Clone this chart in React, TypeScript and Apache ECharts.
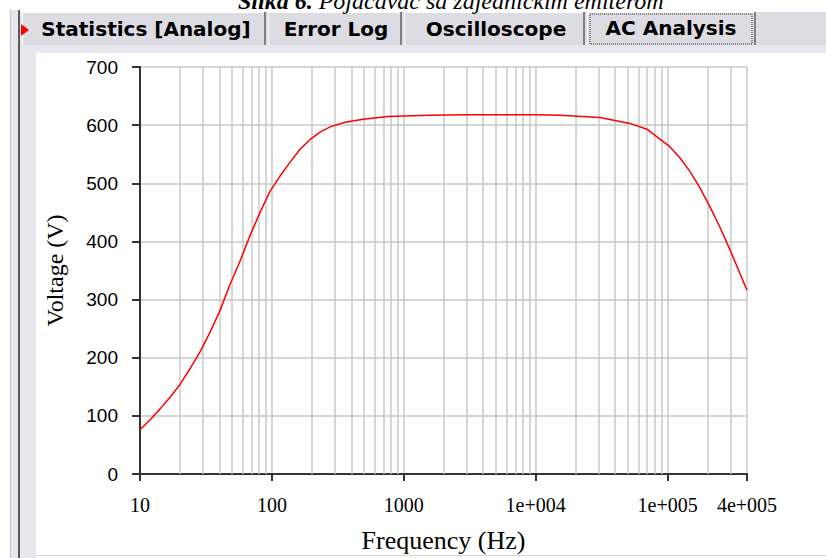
import React, { useEffect, useRef } from "react";
import * as echarts from "echarts";

// Frequency (Hz) and output voltage (V)
const freqHz = [
  10, 11.9, 14.2, 16.9, 20.1, 23.9, 28.5, 34, 40.4, 48.1, 57.3, 68.2, 81.3, 96.7,
  115, 137, 163, 194, 232, 276, 358, 491, 759, 1580, 3000, 6000, 10000,
  15300, 22400, 30700, 39900, 51900, 69800, 87500, 104000, 124000, 148000,
  176000, 210000, 250000, 298000, 355000, 400000,
];
const voltageV = [
  76, 93, 112, 132, 154, 181, 210, 244, 281, 326, 366, 410, 450, 486,
  512, 536, 558, 575, 588, 597, 605, 610, 615, 617, 618, 618, 618,
  617, 615, 613, 608, 603, 593, 576, 563, 544, 520,
  492, 459, 424, 385, 344, 316,
];
const tabLabels = ["Statistics [Analog]", "Error Log", "Oscilloscope", "AC Analysis"];
const titleBold = "Slika 6.";
const titleRest = "Pojačavač sa zajedničkim emiterom";
const xMin = 10;
const xMax = 400000;
const yMin = 0;
const yMax = 700;
const yStep = 100;

function formatFreq(v: number): string {
  const r = Number(v.toPrecision(6));
  if (r < 10000) return String(r);
  const e = Math.floor(Math.log10(r) + 1e-9);
  const m = Math.round(r / Math.pow(10, e));
  return `${m}e+${String(e).padStart(3, "0")}`;
}

export default function App() {
  const ref = useRef<HTMLDivElement>(null);
  useEffect(() => {
    if (!ref.current) return;
    const chart = echarts.init(ref.current, null, { renderer: "svg" });

    // minor log gridlines (2..9 x each decade) inside the axis range
    const minorGrid: number[] = [];
    for (let d = xMin; d < xMax; d *= 10) {
      for (let m = 2; m <= 9; m++) {
        const v = m * d;
        if (v < xMax) minorGrid.push(v);
      }
    }

    const data = freqHz.map((f, i) => [f, voltageV[i]]);
    const gridColor = "#c8c8c8";
    const axisColor = "#333333";
    const panel = "#e6e6ec";
    const tabFill = "#dcdce2";

    const tabs = [
      { x: 22, w: 244, cx: 146, cy: 29 },
      { x: 268, w: 134, cx: 336, cy: 29 },
      { x: 404, w: 181, cx: 496, cy: 29 },
      { x: 587, w: 169, cx: 671, cy: 28 },
    ];

    const graphic: any[] = [
      { type: "rect", shape: { x: 10, y: 10, width: 1, height: 548 }, style: { fill: "#c4c4cc" } },
      { type: "rect", shape: { x: 11, y: 10, width: 7, height: 548 }, style: { fill: panel } },
      { type: "rect", shape: { x: 18, y: 10, width: 2, height: 548 }, style: { fill: "#5a5a5a" } },
      { type: "rect", shape: { x: 20, y: 12, width: 806, height: 33 }, style: { fill: tabFill } },
      { type: "rect", shape: { x: 20, y: 45, width: 806, height: 8 }, style: { fill: panel } },
      { type: "rect", shape: { x: 20, y: 45, width: 16, height: 513 }, style: { fill: panel } },
      { type: "rect", shape: { x: 36, y: 555, width: 790, height: 1 }, style: { fill: "#d4d4da" } },
      { type: "rect", shape: { x: 20, y: 12, width: 2, height: 33 }, style: { fill: panel } },
    ];
    tabs.forEach((t, i) => {
      graphic.push({ type: "rect", shape: { x: t.x, y: 12, width: t.w, height: 33 }, style: { fill: tabFill } });
      graphic.push({ type: "rect", shape: { x: t.x, y: 12, width: t.w, height: 1 }, style: { fill: "#ffffff" } });
      graphic.push({ type: "rect", shape: { x: t.x, y: 12, width: 1, height: 33 }, style: { fill: "#ffffff" } });
      graphic.push({ type: "rect", shape: { x: t.x + t.w - 2, y: 12, width: 2, height: 33 }, style: { fill: "#808080" } });
      graphic.push({
        type: "text",
        x: t.cx,
        y: t.cy,
        style: {
          text: tabLabels[i],
          fill: "#000",
          font: "bold 20px 'DejaVu Sans'",
          align: "center",
          verticalAlign: "middle",
        },
      });
    });
    graphic.push({
      type: "rect",
      shape: { x: 590, y: 14, width: 162, height: 30 },
      style: { fill: "none", stroke: "#333", lineWidth: 1, lineDash: [1, 1] },
    });
    graphic.push({
      type: "polygon",
      shape: { points: [[21, 24], [29, 30], [21, 36]] },
      style: { fill: "#ff0000" },
    });
    graphic.push({
      type: "text",
      x: 238,
      y: 13,
      style: {
        text: `{b|${titleBold}} ${titleRest}`,
        fill: "#000",
        font: "italic 24px 'Liberation Serif'",
        verticalAlign: "bottom",
        rich: { b: { fontWeight: "bold", fontStyle: "italic", fontFamily: "Liberation Serif", fontSize: 24 } },
      },
    });

    chart.setOption({
      animation: false,
      backgroundColor: "#ffffff",
      graphic,
      grid: { left: 140, right: 79, top: 67, bottom: 78, containLabel: false },
      xAxis: {
        type: "log",
        logBase: 10,
        min: xMin,
        max: xMax,
        axisLine: { show: true, lineStyle: { color: axisColor, width: 2 } },
        axisTick: { show: true, length: 7, lineStyle: { color: axisColor, width: 2 } },
        axisLabel: {
          formatter: formatFreq,
          fontFamily: "Liberation Serif",
          fontSize: 20,
          color: "#000",
          margin: 21,
          showMinLabel: true,
          showMaxLabel: true,
        },
        splitLine: { show: true, lineStyle: { color: gridColor, width: 1.5 } },
        minorTick: { show: false },
        minorSplitLine: { show: false },
        name: "Frequency (Hz)",
        nameLocation: "middle",
        nameGap: 53,
        nameTextStyle: { fontFamily: "Liberation Serif", fontSize: 26, color: "#000" },
      },
      yAxis: {
        type: "value",
        min: yMin,
        max: yMax,
        interval: yStep,
        axisLine: { show: true, lineStyle: { color: axisColor, width: 2 } },
        axisTick: { show: true, length: 8, lineStyle: { color: axisColor, width: 2 } },
        axisLabel: { fontFamily: "Liberation Sans", fontSize: 19, color: "#000", margin: 22 },
        splitLine: { show: true, lineStyle: { color: gridColor, width: 1.5 } },
        name: "Voltage (V)",
        nameLocation: "middle",
        nameGap: 73,
        nameRotate: 90,
        nameTextStyle: { fontFamily: "Liberation Serif", fontSize: 24, color: "#000" },
      },
      series: [
        {
          type: "line",
          name: "grid",
          data: [],
          z: 1,
          silent: true,
          markLine: {
            silent: true,
            symbol: "none",
            label: { show: false },
            lineStyle: { color: gridColor, type: "solid", width: 1.5 },
            emphasis: { disabled: true },
            data: minorGrid.map((v) => ({ xAxis: v })),
          },
        },
        {
          type: "line",
          name: "Voltage",
          data,
          z: 5,
          showSymbol: false,
          smooth: false,
          lineStyle: { color: "#ff0000", width: 1.5 },
          itemStyle: { color: "#ff0000" },
        },
      ],
    });
    return () => chart.dispose();
  }, []);
  return (
    <div
      ref={ref}
      style={{ position: "absolute", left: 0, top: 0, width: 826, height: 558, background: "#fff" }}
    />
  );
}
